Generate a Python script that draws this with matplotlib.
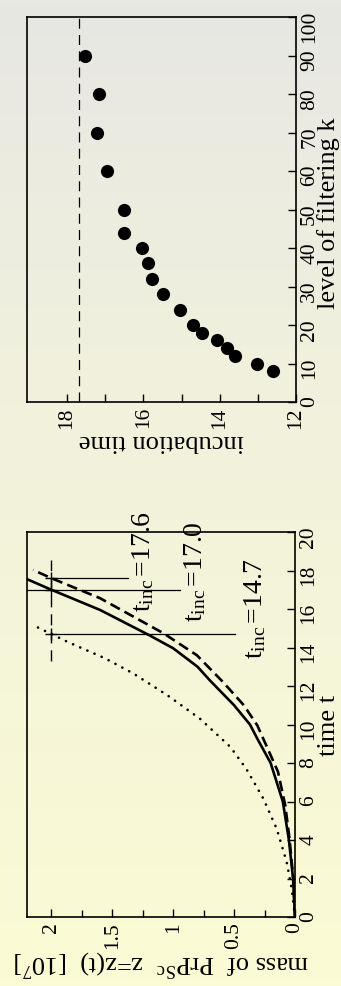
import numpy as np
import matplotlib
matplotlib.use("Agg")
import matplotlib.pyplot as plt
from matplotlib.colors import LinearSegmentedColormap

plt.rcParams['font.family'] = ['Liberation Serif', 'DejaVu Serif']
plt.rcParams['mathtext.fontset'] = 'custom'
plt.rcParams['mathtext.rm'] = 'Liberation Serif'
plt.rcParams['mathtext.it'] = 'Liberation Serif:italic'
plt.rcParams['font.size'] = 15.5

# ---------------- data: incubation time vs level of filtering k ----------------
k_level = [8, 10, 12, 14, 16, 18, 20, 24, 28, 32, 36, 40, 44, 50, 60, 70, 80, 90]
inc_time = [12.60, 13.02, 13.60, 13.81, 14.07, 14.46, 14.70, 15.04, 15.48, 15.77,
            15.88, 16.03, 16.51, 16.51, 16.95, 17.21, 17.16, 17.53]
inc_limit = 17.68

# ---------------- data: mass of PrP^Sc z(t) vs time t ----------------
t_solid = [0, 2, 4, 6, 8, 9.27, 10, 11, 12.3, 13.0, 13.96, 14.65, 15.95, 17.0, 17.55]
z_solid = [0, 0.016, 0.05, 0.10, 0.20, 0.31, 0.37, 0.50, 0.70, 0.80, 1.00, 1.20, 1.60, 2.0, 2.2]

t_dashed = [0, 2, 4.06, 5.8, 7.55, 8.83, 9.96, 11.0, 12.2, 13.6, 14.74, 16.56, 17.6, 18.03]
z_dashed = [0, 0.014, 0.045, 0.08, 0.14, 0.23, 0.31, 0.42, 0.59, 0.806, 1.08, 1.60, 2.0, 2.15]

t_dotted = [0, 1.46, 2.85, 4.58, 6.15, 7.7, 8.83, 10.3, 11.53, 12.66, 13.44, 14.3, 15.1]
z_dotted = [0, 0.027, 0.068, 0.15, 0.26, 0.40, 0.53, 0.78, 1.05, 1.33, 1.56, 1.87, 2.13]

z_threshold = 2.0
threshold_t = [13.28, 18.55]
t_inc_values = [17.6, 17.0, 14.7]
t_inc_labels = ['17.6', '17.0', '14.7']
line_start = [2.0, 2.2, 2.0]
line_end = [1.37, 0.94, 0.49]
text_pos = [(1.25, 15.9), (0.82, 15.4), (0.33, 13.44)]

W, H = 341, 987
fig = plt.figure(figsize=(W / 100, H / 100), dpi=100)

# background gradient
bg = fig.add_axes([0, 0, 1, 1], zorder=-10)
cmap = LinearSegmentedColormap.from_list(
    'bg', [(0.0, (231/255, 231/255, 227/255)), (0.35, (240/255, 240/255, 222/255)),
           (1.0, (251/255, 251/255, 212/255))])
grad = np.linspace(0, 1, 256).reshape(-1, 1)
bg.imshow(grad, aspect='auto', cmap=cmap, extent=[0, 1, 0, 1], origin='upper')
bg.axis('off')


def px_axes(left, top, right, bottom):
    return [left / W, (H - bottom) / H, (right - left) / W, (bottom - top) / H]


# ---------------- top panel ----------------
ax1 = fig.add_axes(px_axes(27, 18, 296, 403))
ax1.patch.set_alpha(0)
ax1.scatter(inc_time, k_level, s=90, color='black', zorder=3, linewidths=0)
ax1.axvline(inc_limit, color='black', lw=0.9, linestyle=(0, (8, 5)))
ax1.set_xlim(19.05, 12)
ax1.set_ylim(0, 100)
ax1.set_xticks([12, 14, 16, 18])
ax1.set_xticks([13, 15, 17], minor=True)
ax1.set_yticks(list(range(0, 101, 10)))
ax1.yaxis.tick_right()
ax1.tick_params(axis='both', which='both', direction='in', length=6, width=1,
                labelrotation=90, pad=3)
ax1.tick_params(axis='x', which='minor', length=6)
for s in ax1.spines.values():
    s.set_linewidth(1.2)

fig.text(161 / W, 1 - 441 / H, 'incubation time', rotation=180,
         ha='center', va='center', fontsize=19)
fig.text(329 / W, 1 - 213 / H, 'level of filtering k', rotation=90,
         ha='center', va='center', fontsize=19)

# ---------------- bottom panel ----------------
ax2 = fig.add_axes(px_axes(27, 533, 295, 918))
ax2.patch.set_alpha(0)
ax2.plot(z_solid, t_solid, color='black', lw=1.9)
ax2.plot(z_dashed, t_dashed, color='black', lw=1.9, linestyle=(0, (4, 2)))
ax2.plot(z_dotted, t_dotted, color='black', lw=1.9, linestyle=(0, (0.05, 2.9)),
         dash_capstyle='round')
ax2.plot([z_threshold, z_threshold], threshold_t, color='black', lw=1.0,
         linestyle=(0, (8, 5)))
for tv, zs, ze, lab, (tx, ty) in zip(t_inc_values, line_start, line_end,
                                     t_inc_labels, text_pos):
    ax2.plot([zs, ze], [tv, tv], color='black', lw=0.9)
    ax2.plot([z_threshold], [tv], marker='+', ms=8, mew=1.0, color='black')
    ax2.text(tx, ty, r'$\mathrm{t}_{\mathrm{inc}}\,$=' + lab, rotation=90,
             ha='center', va='bottom', fontsize=20, clip_on=False)

ax2.set_xlim(2.2, 0)
ax2.set_ylim(0, 20)
ax2.set_xticks([0, 0.5, 1, 1.5, 2])
ax2.set_xticklabels(['0', '0.5', '1', '1.5', '2'])
ax2.set_xticks([0.25, 0.75, 1.25, 1.75], minor=True)
ax2.set_yticks(list(range(0, 21, 2)))
ax2.yaxis.tick_right()
ax2.tick_params(axis='both', which='both', direction='in', length=6, width=1,
                labelrotation=90, pad=3)
ax2.tick_params(axis='x', which='minor', length=5)
for s in ax2.spines.values():
    s.set_linewidth(1.2)

fig.text(329 / W, 1 - 725 / H, 'time t', rotation=90,
         ha='center', va='center', fontsize=19)
fig.text(161 / W, 1 - 956 / H,
         r'mass of  PrP$^{\mathrm{Sc}}$  z=z(t)  [10$^{7}$]', rotation=180,
         rotation_mode='anchor', ha='center', va='baseline', fontsize=19)

fig.savefig('out.png', dpi=100)
